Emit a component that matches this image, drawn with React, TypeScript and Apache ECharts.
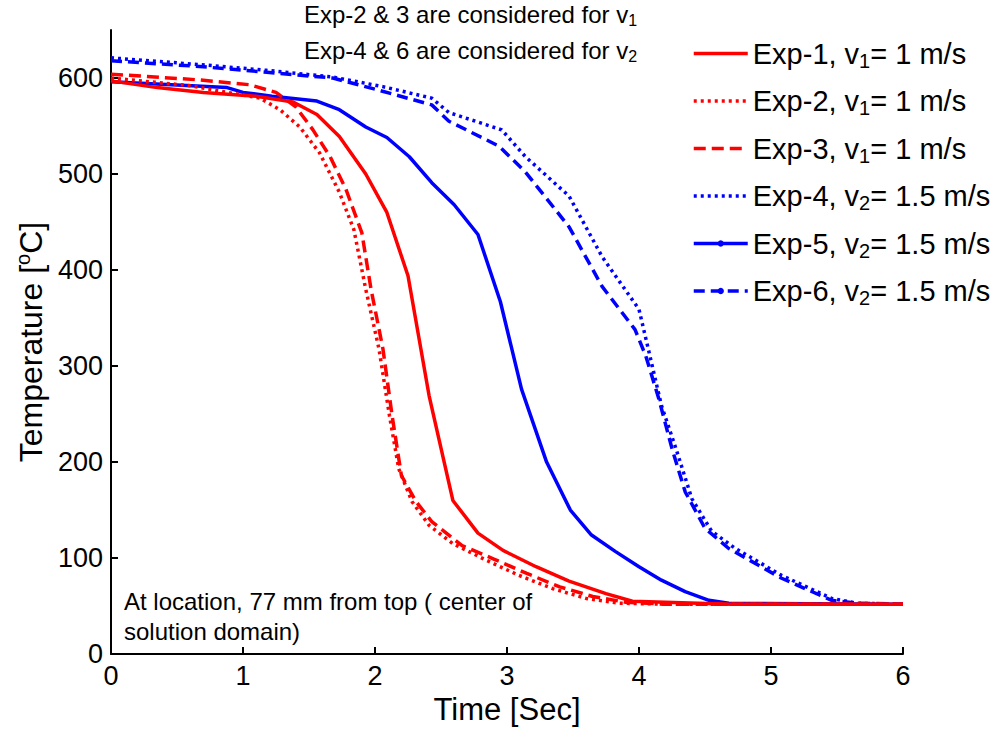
import React, { useEffect, useRef } from "react";
import * as echarts from "echarts";

// ---- data ----
const t1 = [0, 0.35, 0.7, 1.1, 1.38, 1.56, 1.73, 1.93, 2.09, 2.25, 2.41, 2.59, 2.78, 2.97, 3.22, 3.47, 3.75, 3.95, 4.7, 6];
const v1 = [597, 590, 585, 581, 575, 562, 539, 500, 460, 394, 269, 160, 126, 108, 91, 76, 63, 55, 52, 52];

const t2 = [0, 0.6, 1.13, 1.28, 1.43, 1.58, 1.73, 1.84, 1.93, 2.03, 2.11, 2.18, 2.28, 2.41, 2.59, 2.84, 3.09, 3.35, 3.6, 3.85, 4.2, 6];
const v2 = [600, 592, 579, 567, 549, 522, 481, 442, 380, 318, 248, 193, 159, 134, 115, 98, 82, 68, 58, 53, 52, 52];

const t3 = [0, 0.67, 1.05, 1.25, 1.4, 1.53, 1.66, 1.78, 1.9, 1.97, 2.06, 2.13, 2.2, 2.31, 2.43, 2.66, 2.9, 3.15, 3.4, 3.65, 3.9, 4.2, 6];
const v3 = [604, 598, 593, 585, 570, 546, 518, 484, 439, 380, 318, 248, 186, 159, 138, 113, 99, 84, 70, 60, 54, 52, 52];

const t4 = [0, 0.67, 1.18, 1.68, 2.06, 2.43, 2.56, 2.96, 3.14, 3.47, 3.72, 4.0, 4.07, 4.17, 4.28, 4.4, 4.55, 4.73, 5.08, 5.46, 5.65, 6];
const v4 = [621, 614, 608, 601, 591, 579, 564, 546, 518, 477, 414, 359, 318, 259, 214, 162, 128, 110, 82, 58, 53, 52];

const t5 = [0, 0.88, 1.0, 1.22, 1.56, 1.73, 1.93, 2.09, 2.26, 2.43, 2.6, 2.78, 2.95, 3.11, 3.3, 3.48, 3.64, 3.82, 4.0, 4.17, 4.35, 4.53, 4.68, 6];
const v5 = [596, 590, 585, 581, 576, 567, 549, 538, 518, 491, 468, 437, 367, 276, 200, 150, 124, 107, 91, 77, 65, 56, 53, 52];

const t6 = [0, 0.67, 1.18, 1.68, 2.01, 2.43, 2.56, 2.94, 3.14, 3.47, 3.72, 3.97, 4.05, 4.15, 4.25, 4.35, 4.5, 4.68, 5.08, 5.46, 5.65, 6];
const v6 = [618, 612, 606, 600, 588, 572, 555, 529, 502, 445, 383, 338, 311, 266, 214, 169, 131, 110, 79, 56, 53, 52];

const seriesNames = [
  "Exp-1, v1= 1 m/s",
  "Exp-2, v1= 1 m/s",
  "Exp-3, v1= 1 m/s",
  "Exp-4, v2= 1.5 m/s",
  "Exp-5, v2= 1.5 m/s",
  "Exp-6, v2= 1.5 m/s",
];
const legendPrefix = ["Exp-1, v", "Exp-2, v", "Exp-3, v", "Exp-4, v", "Exp-5, v", "Exp-6, v"];
const legendSub = ["1", "1", "1", "2", "2", "2"];
const legendSuffix = ["= 1 m/s", "= 1 m/s", "= 1 m/s", "= 1.5 m/s", "= 1.5 m/s", "= 1.5 m/s"];

const xTicks = [0, 1, 2, 3, 4, 5, 6];
const yTicks = [0, 100, 200, 300, 400, 500, 600];

const FONT = "'Liberation Sans', Arial, Helvetica, sans-serif";
const RED = "#ff0000";
const BLUE = "#0000ff";

function pairs(t: number[], v: number[]) {
  return t.map((x, i) => [x, v[i]]);
}

export default function App() {
  const ref = useRef<HTMLDivElement>(null);
  useEffect(() => {
    if (!ref.current) return;
    const chart = echarts.init(ref.current, undefined, { renderer: "svg" });
    const times = [t1, t2, t3, t4, t5, t6];
    const vals = [v1, v2, v3, v4, v5, v6];
    const colors = [RED, RED, RED, BLUE, BLUE, BLUE];
    const types: any[] = ["solid", [3, 4], [12, 6], [3, 4], "solid", [11, 6]];
    const symbols = ["none", "none", "none", "none", "circle", "circle"];

    const option: any = {
      animation: false,
      backgroundColor: "#ffffff",
      grid: { left: 111, right: 88, top: 30, bottom: 74, containLabel: false },
      xAxis: {
        type: "value",
        min: 0,
        max: 6,
        interval: 1,
        name: "Time [Sec]",
        nameLocation: "middle",
        nameGap: 35,
        nameTextStyle: { fontFamily: FONT, fontSize: 31, color: "#000" },
        axisLine: { show: true, lineStyle: { color: "#000", width: 2 } },
        axisTick: { show: true, inside: true, length: 7, lineStyle: { color: "#000", width: 2 } },
        axisLabel: {
          fontFamily: FONT,
          fontSize: 27,
          color: "#000",
          margin: 8,
          formatter: (v: number) => (xTicks.includes(v) ? String(v) : ""),
        },
        splitLine: { show: false },
      },
      yAxis: {
        type: "value",
        min: 0,
        max: 650,
        interval: 100,
        name: "{a|Temperature [}{sup|o}{a|C]}",
        nameLocation: "middle",
        nameGap: 58,
        nameTextStyle: {
          fontFamily: FONT,
          fontSize: 32,
          color: "#000",
          rich: {
            a: { fontFamily: FONT, fontSize: 32, color: "#000" },
            sup: { fontFamily: FONT, fontSize: 20, color: "#000", padding: [0, 0, 16, 0] },
          },
        },
        axisLine: { show: true, lineStyle: { color: "#000", width: 2 } },
        axisTick: { show: true, inside: true, length: 7, lineStyle: { color: "#000", width: 2 } },
        axisLabel: {
          fontFamily: FONT,
          fontSize: 27,
          color: "#000",
          margin: 8,
          showMaxLabel: false,
          formatter: (v: number) => (yTicks.includes(v) ? String(v) : ""),
        },
        splitLine: { show: false },
      },
      legend: {
        orient: "vertical",
        left: 687,
        top: 34,
        itemWidth: 54,
        itemHeight: 8,
        itemGap: 16,
        itemStyle: { borderWidth: 0 },
        data: seriesNames.map((name, i) => ({
          name,
          itemStyle: i < 4 ? { opacity: 0 } : { color: BLUE, borderWidth: 0 },
          lineStyle: { width: 3.5, color: colors[i], type: types[i] },
        })),
        formatter: (name: string) => {
          const i = seriesNames.indexOf(name);
          return `{a|${legendPrefix[i]}}{s|${legendSub[i]}}{a|${legendSuffix[i]}}`;
        },
        textStyle: {
          fontFamily: FONT,
          fontSize: 29,
          color: "#000",
          rich: {
            a: { fontFamily: FONT, fontSize: 29, color: "#000" },
            s: { fontFamily: FONT, fontSize: 20, color: "#000", padding: [14, 0, 0, 0] },
          },
        },
      },
      graphic: [
        {
          type: "text",
          left: 304,
          top: 2,
          style: {
            text: "{a|Exp-2 & 3 are considered for v}{s|1}\n{a|Exp-4 & 6 are considered for v}{s|2}",
            rich: {
              a: { fontFamily: FONT, fontSize: 24, fill: "#000", lineHeight: 36 },
              s: { fontFamily: FONT, fontSize: 16, fill: "#000", padding: [12, 0, 0, 0] },
            },
          },
        },
        {
          type: "text",
          left: 124,
          top: 586,
          style: {
            text: "At location, 77 mm from top ( center of\nsolution domain)",
            fontFamily: FONT,
            fontSize: 24,
            lineHeight: 30,
            fill: "#000",
          },
        },
      ],
      series: seriesNames.map((name, i) => ({
        name,
        type: "line",
        data: pairs(times[i], vals[i]),
        symbol: symbols[i],
        symbolSize: 5,
        showSymbol: false,
        lineStyle: { color: colors[i], width: 3.5, type: types[i] },
        itemStyle: { color: colors[i] },
        z: 10 - i,
      })),
    };
    chart.setOption(option);
    return () => chart.dispose();
  }, []);
  return (
    <div
      ref={ref}
      style={{ position: "fixed", left: 0, top: 0, width: 991, height: 730 }}
    />
  );
}
